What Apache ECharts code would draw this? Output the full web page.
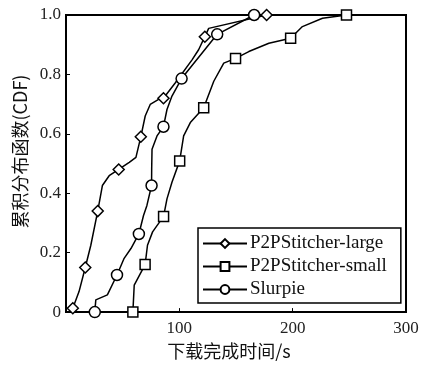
<!DOCTYPE html>
<html><head><meta charset="utf-8">
<script src="https://cdn.jsdelivr.net/npm/echarts@6/dist/echarts.min.js"></script>
<style>html,body{margin:0;padding:0;background:#fff}#c{width:422px;height:365px}</style>
</head><body><div id="c"></div>
<script>
// [x, y, showMarker]
var seriesNames = ['P2PStitcher-large', 'P2PStitcher-small', 'Slurpie'];
var largeData = [[6,0.013,1],[11.5,0.069,0],[17,0.15,1],[21.9,0.225,0],[28,0.34,1],[32.1,0.426,0],[38.1,0.459,0],[46.5,0.48,1],[55.8,0.504,0],[61.7,0.521,0],[66,0.59,1],[69.9,0.66,0],[74.3,0.699,0],[81.7,0.716,0],[86,0.72,1],[96.5,0.772,0],[111.2,0.849,0],[117,0.883,0],[122.5,0.927,1],[125.9,0.955,0],[177,1.0,1]];
var smallData = [[59,0,1],[60.2,0.091,0],[69.8,0.16,1],[71.9,0.225,0],[76.4,0.27,0],[86.1,0.322,1],[89.1,0.381,0],[93.5,0.437,0],[100.3,0.509,1],[103.8,0.593,0],[109.7,0.638,0],[121.5,0.688,1],[130.4,0.777,0],[139.2,0.838,0],[149.6,0.854,1],[161.3,0.877,0],[179,0.905,0],[198.2,0.922,1],[208.6,0.961,0],[226.3,0.989,0],[247.5,1.0,1]];
var slurpieData = [[25.4,0,1],[26.3,0.041,0],[36.5,0.058,0],[45,0.125,1],[51.3,0.181,0],[57.3,0.214,0],[64.3,0.263,1],[68.4,0.325,0],[71.4,0.359,0],[75.5,0.426,1],[75.6,0.482,0],[75.9,0.548,0],[80.3,0.593,0],[86,0.624,1],[89.1,0.682,0],[93.5,0.727,0],[102,0.786,1],[133.4,0.935,1],[166,1.0,1]];
var xTicks = [0,100,200,300];
var yTicks = [0,0.2,0.4,0.6,0.8,1.0];
var symbols = ['diamond','rect','circle'];

function mk(d){return d.map(function(p){return p[2]?{value:[p[0],p[1]]}:{value:[p[0],p[1]],symbol:'none'};});}
var font = '"Liberation Serif","DejaVu Serif",serif';
var chart = echarts.init(document.getElementById('c'));
var datas=[largeData,smallData,slurpieData];
chart.setOption({
  animation:false,
  backgroundColor:'#fff',
  grid:{left:66,right:16,top:15,bottom:51,show:true,borderColor:'#000',borderWidth:2},
  legend:{
    orient:'vertical',left:198,top:228,
    data:seriesNames,
    itemWidth:44,itemHeight:11,itemGap:4,
    padding:[6,14,4,4],
    borderColor:'#000',borderWidth:1.5,
    backgroundColor:'#fff',
    textStyle:{fontFamily:font,fontSize:19,color:'#111',padding:[0,0,0,-2]}
  },
  xAxis:{
    type:'value',min:xTicks[0],max:xTicks[xTicks.length-1],interval:100,
    name:'下载完成时间/s',nameLocation:'middle',nameGap:28,
    nameTextStyle:{fontFamily:'"Noto Sans CJK SC",'+font,fontSize:18,color:'#111',padding:[0,14,0,0]},
    axisLine:{lineStyle:{color:'#000',width:2}},
    axisTick:{inside:true,length:4,lineStyle:{color:'#000'}},
    axisLabel:{showMinLabel:false,fontFamily:font,fontSize:17,color:'#222',margin:8},
    splitLine:{show:false}
  },
  yAxis:{
    type:'value',min:yTicks[0],max:yTicks[yTicks.length-1],interval:0.2,
    name:'累积分布函数(CDF)',nameLocation:'middle',nameGap:36,
    nameTextStyle:{fontFamily:'"Noto Sans CJK SC",'+font,fontSize:18,color:'#111',padding:[0,0,0,24]},
    axisLine:{lineStyle:{color:'#000',width:2}},
    axisTick:{inside:true,length:4,lineStyle:{color:'#000'}},
    axisLabel:{fontFamily:font,fontSize:17,color:'#222',margin:5,formatter:function(v){return v===0?'0':v.toFixed(1);}},
    splitLine:{show:false}
  },
  series:seriesNames.map(function(n,i){
    return {name:n,type:'line',data:mk(datas[i]),symbol:symbols[i],symbolSize:i===1?10:11,
      showAllSymbol:true,
      lineStyle:{color:'#000',width:1.5},
      itemStyle:{color:'#fff',borderColor:'#000',borderWidth:1.5}};
  })
});
</script></body></html>
